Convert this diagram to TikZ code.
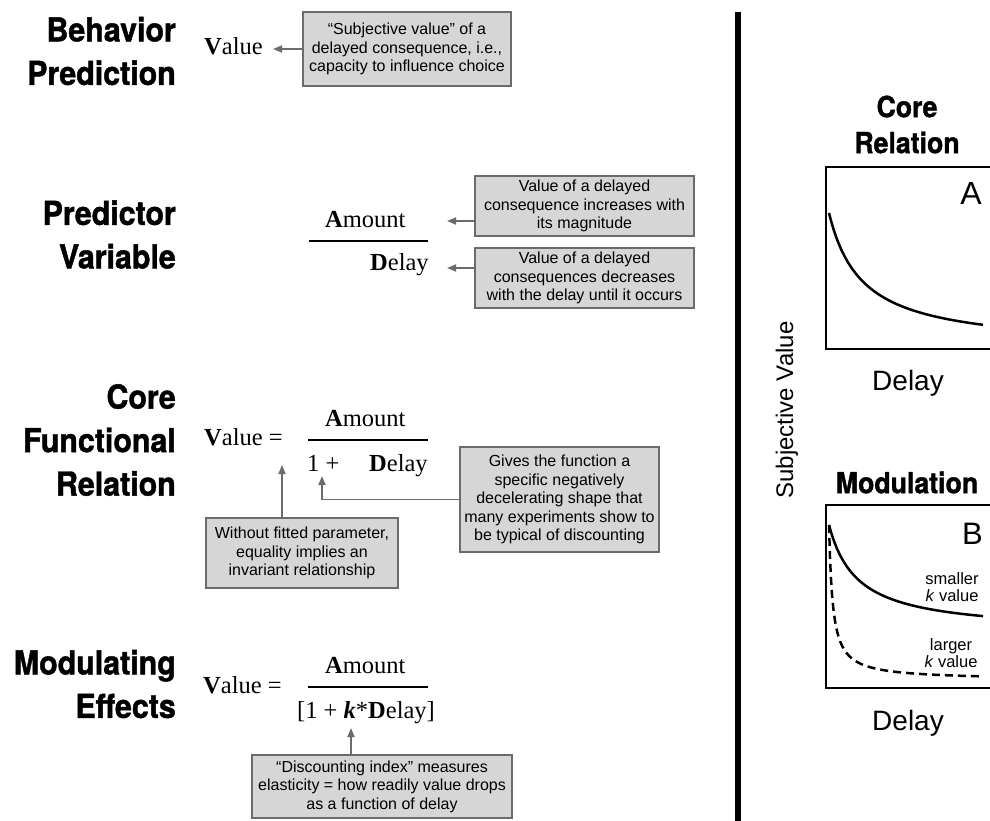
\documentclass[tikz,border=0pt]{standalone}
\usepackage{fontspec}
\setmainfont{Liberation Sans}
\newfontfamily\formfont{Liberation Serif}
\newfontfamily\headfont[FakeStretch=0.92,FakeBold=1.3]{TeX Gyre Heros}
\usetikzlibrary{arrows.meta,positioning,calc}

\begin{document}
\begin{tikzpicture}[x=1pt,y=-1pt,every node/.style={inner sep=0pt},
  head/.style={font=\headfont\bfseries\fontsize{33}{43.5}\selectfont,align=right,anchor=east},
  phead/.style={font=\headfont\bfseries\fontsize{29}{36}\selectfont,align=center},
  form/.style={font=\formfont\fontsize{24.5}{28}\selectfont,anchor=base west},
  note/.style={draw=black!58,fill=black!16,line width=1.5pt,align=center,
    font=\fontsize{16}{18.5}\selectfont},
  arr/.style={-{Triangle[length=9pt,width=7pt]},draw=black!58,line width=1.8pt},
  curve/.style={line width=2.5pt}]
\useasboundingbox (0,0) rectangle (990,821);
% row headings
\node[head] (hbp) at (176,51) {Behavior\\Prediction};
\node[head] (hpv) at (176,234.5) {Predictor\\Variable};
\node[head] (hcf) at (176,440) {Core\\Functional\\Relation};
\node[head] (hme) at (176,684) {Modulating\\Effects};
% behavior prediction
\node[form] (bpval) at (204,55) {\textbf{V}alue};
\node[note,minimum width=208,minimum height=74] (bpbox) at (407,49)
  {``Subjective value'' of a\\delayed consequence, i.e.,\\capacity to influence choice};
\coordinate (bptip) at (273,49);
\draw[arr] (bpbox.west) -- (bptip);
% predictor variable
\node[form] (pvamt) at (325,227) {\textbf{A}mount};
\node[form] (pvdly) at (370,270) {\textbf{D}elay};
\draw[line width=1.5pt] (309,241) -- (428,241);
\node[note,minimum width=219,minimum height=60] (pvbox1) at (584.5,206)
  {Value of a delayed\\consequence increases with\\its magnitude};
\node[note,minimum width=219,minimum height=60] (pvbox2) at (584.5,278)
  {Value of a delayed\\consequences decreases\\with the delay until it occurs};
\coordinate (amtip) at (447,221);
\coordinate (dlytip) at (447,268);
\draw[arr] (amtip -| pvbox1.west) -- (amtip);
\draw[arr] (dlytip -| pvbox2.west) -- (dlytip);
% core functional relation
\node[form] (cfval) at (204,445) {\textbf{V}alue =};
\node[form] (cfamt) at (325,426) {\textbf{A}mount};
\node[form] (cfone) at (307,471) {1 +};
\node[form] (cfdly) at (369,471) {\textbf{D}elay};
\draw[line width=1.5pt] (308,440) -- (428,440);
\node[note,minimum width=192,minimum height=70] (cfbox1) at (302,553)
  {Without fitted parameter,\\equality implies an\\invariant relationship};
\node[note,minimum width=199,minimum height=105] (cfbox2) at (559.5,499.5)
  {Gives the function a\\specific negatively\\decelerating shape that\\many experiments show to\\be typical of discounting};
\coordinate (eqtip) at (282,465);
\coordinate (onetip) at (322,476);
\draw[arr] (eqtip |- cfbox1.north) -- (eqtip);
\draw[arr] (cfbox2.west) -| (onetip);
% modulating effects
\node[form] (meval) at (203,693) {\textbf{V}alue =};
\node[form] (meamt) at (325,673) {\textbf{A}mount};
\node[form] (meden) at (297,718) {[1 + \textbf{\textit{k}}*\textbf{D}elay]};
\draw[line width=1.5pt] (308,687) -- (428,687);
\node[note,minimum width=260,minimum height=63] (mebox) at (382,786.5)
  {``Discounting index'' measures\\elasticity = how readily value drops\\as a function of delay};
\coordinate (ktip) at (351,728);
\draw[arr] (ktip |- mebox.north) -- (ktip);
% divider
\draw[line width=6pt] (738,12) -- (738,825);
% right panels
\node[phead] (hcr) at (907,124.5) {Core\\Relation};
\node[phead] (hmo) at (907,482.5) {Modulation};
\node[font=\fontsize{24}{28}\selectfont,rotate=90] (sv) at (787,410) {Subjective Value};
\foreach \y/\n in {383/dlA,723/dlB}
  \node[font=\fontsize{28}{32}\selectfont] (\n) at (908,\y) {Delay};
\draw[line width=2pt] (1000,167) -- (826,167) -- (826,349) -- (1000,349);
\draw[line width=2pt] (1000,505) -- (826,505) -- (826,688) -- (1000,688);
\node[font=\fontsize{32}{36}\selectfont,anchor=east] (lA) at (982,193.5) {A};
\node[font=\fontsize{31}{36}\selectfont,anchor=east] (lB) at (983,534) {B};
\draw[curve] plot[domain=0:154,samples=80] ({829+\x},{349-136/(1+0.03*\x)});
\draw[curve] plot[domain=0:154,samples=80] ({829+\x},{688-(55+108/(1+0.035*\x))});
\draw[curve,dash pattern=on 8pt off 5pt] plot[domain=0:154,samples=150] ({829+\x},{688-(8+155/(1+0.27*\x))});
\node[font=\fontsize{16.5}{17}\selectfont,align=center] (lsm) at (952,587) {smaller\\\textit{k} value};
\node[font=\fontsize{16.5}{17}\selectfont,align=center] (llg) at (951,653) {larger\\\textit{k} value};
\end{tikzpicture}
\end{document}
